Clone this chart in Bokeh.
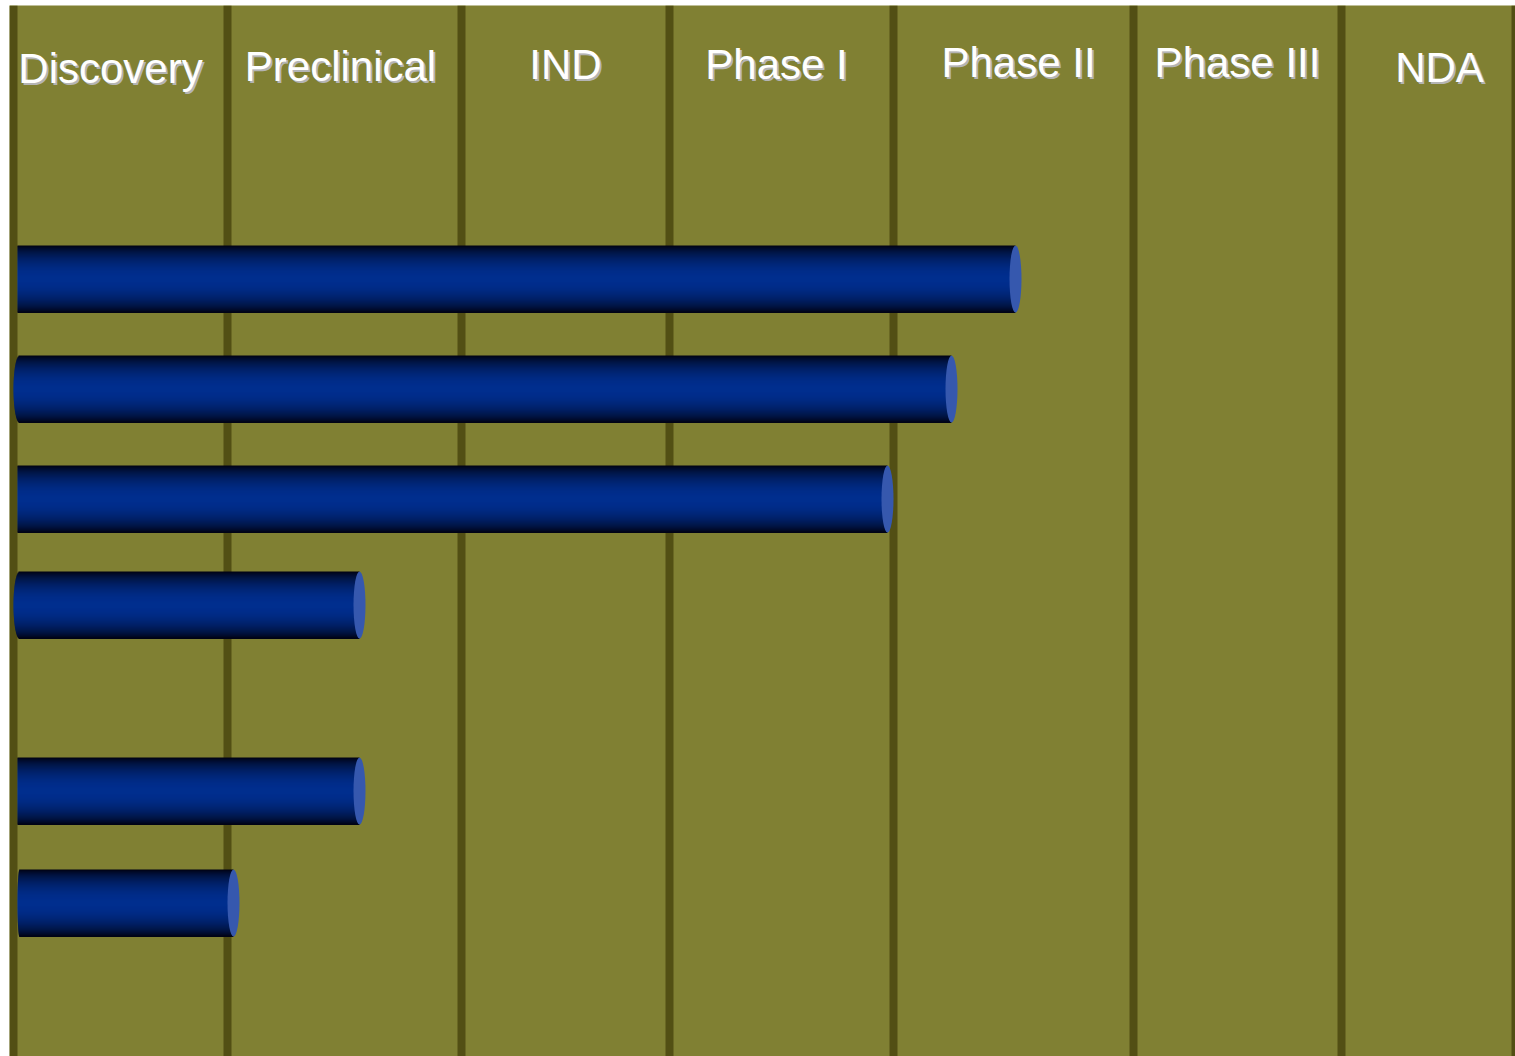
import numpy as np
from bokeh.plotting import figure
from bokeh.models import Range1d, ColumnDataSource
from bokeh.core.properties import value
from bokeh.embed import file_html
from bokeh.resources import INLINE

# ---- data (chart units = reference pixels) ----
phases = ["Discovery", "Preclinical", "IND", "Phase I", "Phase II", "Phase III", "NDA"]
phase_label_x = [110, 340, 565, 776, 1018, 1237, 1439]
phase_label_y = [68, 66, 64, 64, 62, 62, 67]
phase_edges = [13, 227, 461, 669, 893, 1133, 1341, 1515]

bar_start = [17, 19, 17, 19, 17, 19]
bar_left_round = [0, 6, 0, 6, 0, 2]
bar_end = [1015, 951, 887, 359, 359, 233]
bar_row = [278.5, 388.5, 498.5, 604.5, 790.5, 902.5]
bar_thickness = 67

W, H = 1515, 1056
LEFT_PAD, TOP_PAD = 9, 5
OLIVE = "#808033"
LINE = "#524F14"
BLUE = np.array([0, 46, 142])
CAP = "#3658AE"

p = figure(width=W, height=H, x_range=Range1d(LEFT_PAD, W), y_range=Range1d(H, TOP_PAD),
           output_backend="svg", toolbar_location=None,
           min_border_left=LEFT_PAD, min_border_top=TOP_PAD,
           min_border_right=0, min_border_bottom=0)
p.axis.visible = False
p.grid.visible = False
p.outline_line_color = None
p.background_fill_color = OLIVE
p.border_fill_color = "white"

# column separators
p.vbar(x=phase_edges, width=8, top=0, bottom=1100, fill_color=LINE, line_color=None)

# cylinders built from thin horizontal strips (vertical gradient)
L, R, T, B, C = [], [], [], [], []
n = bar_thickness
for s, rnd, e, yc in zip(bar_start, bar_left_round, bar_end, bar_row):
    top = yc - bar_thickness / 2
    for i in range(n):
        t = ((i + 0.5) / n) * 2 - 1
        k = max(0.0, np.cos(t * np.pi / 2)) ** 0.7
        col = BLUE * k + np.array([0, 0, 12]) * (1 - k)
        left = s - rnd * np.sqrt(max(0.0, 1 - t * t))
        L.append(left)
        R.append(e)
        T.append(top + i)
        B.append(top + i + 1.4)
        C.append("#%02x%02x%02x" % tuple(int(round(v)) for v in col))
src = ColumnDataSource(dict(left=L, right=R, top=T, bottom=B, color=C))
p.quad(left="left", right="right", top="top", bottom="bottom", fill_color="color",
       line_color=None, source=src)

# end caps
p.ellipse(x=bar_end, y=bar_row, width=12, height=bar_thickness, fill_color=CAP,
          line_color=None)

# header labels with drop shadow
p.text(x=[x + 2 for x in phase_label_x], y=[y + 2 for y in phase_label_y], text=phases,
       text_font=value("Liberation Sans"), text_font_size="42px", text_color="#B4B4B4",
       text_align="center", text_baseline="alphabetic")
p.text(x=phase_label_x, y=phase_label_y, text=phases,
       text_font=value("Liberation Sans"), text_font_size="42px", text_color="#FFFFFF",
       text_align="center", text_baseline="alphabetic")

open("out.html", "w").write(file_html(p, INLINE))
